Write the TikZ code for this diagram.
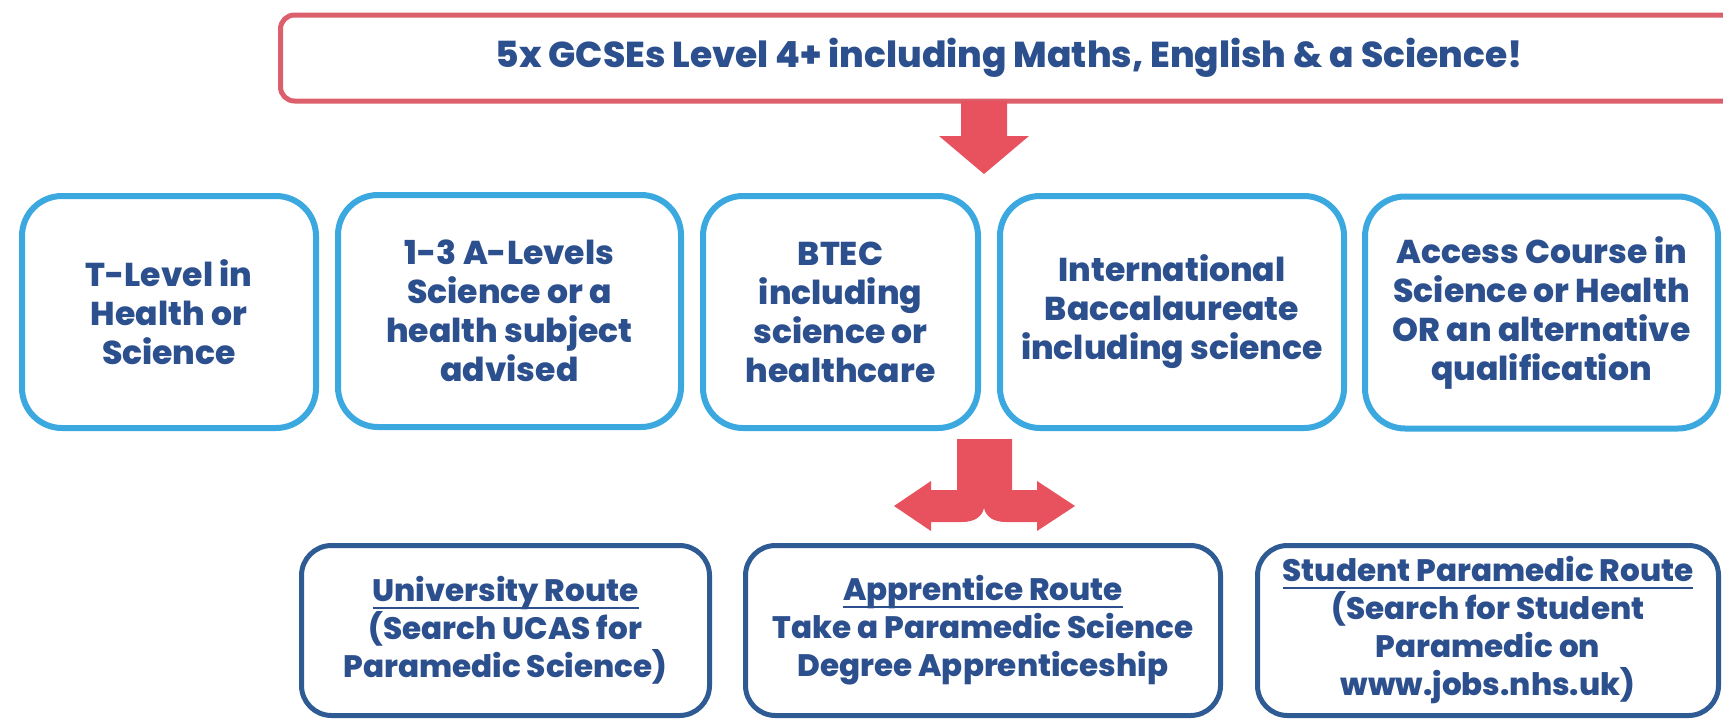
\documentclass[tikz,border=0pt]{standalone}
\usepackage{fontspec}
\IfFontExistsTF{Poppins ExtraBold}{\setmainfont{Poppins}[BoldFont={Poppins ExtraBold}]}{\setmainfont{Poppins}}
\usepackage{tikz}
\definecolor{gcsered}{HTML}{DC5F6C}
\definecolor{arrowred}{HTML}{E8525E}
\definecolor{optblue}{HTML}{3BA8DF}
\definecolor{routeblue}{HTML}{2F5B94}
\definecolor{textblue}{HTML}{2C4F8E}
\newcommand{\routehead}[1]{\setbox0\hbox{#1}\rlap{\vrule height -5.5pt depth 7.2pt width \wd0}\box0}
\tikzset{
	gcsebox/.style={draw=gcsered, line width=5pt, rounded corners=14pt, inner sep=0pt, align=center, text=textblue, font=\bfseries\fontsize{36}{40}\selectfont},
	optbox/.style={draw=optblue, line width=6pt, rounded corners=40pt, inner sep=0pt, align=center, text=textblue, minimum height=232pt, font=\bfseries\fontsize{33}{39}\selectfont},
	routebox/.style={draw=routeblue, line width=5pt, rounded corners=30pt, inner sep=0pt, align=center, text=textblue, minimum height=170pt, font=\bfseries\fontsize{31}{38}\selectfont}
}

\begin{document}
\begin{tikzpicture}[x=1pt, y=-1pt]
			%%%%% START %%%%%
			\path[use as bounding box, clip] (0, 0) rectangle (1723, 720);
			
			\node[gcsebox, minimum width=1457pt, minimum height=86pt] (gcse) at (1009, 58) {5x GCSEs Level 4+ including Maths, English \& a Science!};
			
			\fill[arrowred] (961, 101) -- (1007, 101) -- (1007, 136) -- (1029, 136) -- (984, 174) -- (939, 136) -- (961, 136) -- cycle;
			
			\node[optbox, minimum width=294pt] (tlevel) at (169, 312) {T-Level in\\Health or\\Science};
			\node[optbox, minimum width=343pt] (alevel) at (509.5, 311) {1-3 A-Levels\\Science or a\\health subject\\advised};
			\node[optbox, minimum width=275pt] (btec) at (840.5, 312) {BTEC\\including\\science or\\healthcare};
			\node[optbox, minimum width=344pt] (ib) at (1172, 312) {International\\Baccalaureate\\including science};
			\node[optbox, minimum width=353pt] (access) at (1541.5, 312.5) {Access Course in\\Science or Health\\OR an alternative\\qualification};
			
			\fill[arrowred] (957, 439) -- (1012, 439) -- (1012, 490) -- (1037, 490) -- (1037, 481) -- (1075, 506) -- (1037, 531) -- (1037, 522) -- (1006, 522)
				.. controls (994, 522) and (986, 517) .. (984, 508)
				.. controls (982, 517) and (974, 522) .. (962, 522)
				-- (931, 522) -- (931, 531) -- (894, 506) -- (931, 481) -- (931, 490) -- (957, 490) -- cycle;
			
			\node[routebox, minimum width=408pt] (uni) at (505.5, 630.5) {\routehead{University Route}\\(Search UCAS for\\Paramedic Science)};
			\node[routebox, minimum width=475pt] (appr) at (983, 630.5) {\routehead{Apprentice Route}\\Take a Paramedic Science\\Degree Apprenticeship};
			\node[routebox, minimum width=461pt] (student) at (1488, 630.5) {\routehead{Student Paramedic Route}\\(Search for Student\\Paramedic on\\www.jobs.nhs.uk)};
			%%%%% END %%%%%
\end{tikzpicture}
\end{document}
